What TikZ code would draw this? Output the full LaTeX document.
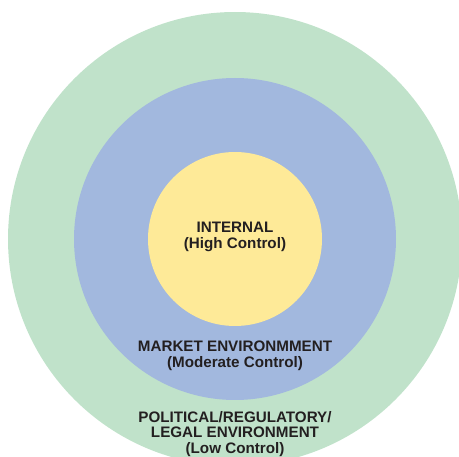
\documentclass[tikz,border=0pt]{standalone}
\usepackage{fontspec}
\setmainfont{Liberation Sans}
\definecolor{greenring}{HTML}{C0E2CA}
\definecolor{bluering}{HTML}{A2B8DE}
\definecolor{yellowcore}{HTML}{FEEA98}
\definecolor{textdark}{HTML}{231F20}
\begin{document}
\begin{tikzpicture}[x=1pt,y=-1pt,
  lbl/.style={align=center,font=\fontsize{15.2}{15.5}\selectfont\bfseries,text=textdark,inner sep=0pt}]
\useasboundingbox (0,0) rectangle (459,457);
\begin{scope}
\clip (0,0) rectangle (459,457);
\fill[greenring] (235,239) circle (227);
\fill[bluering] (235,239) circle (161);
\fill[yellowcore] (235,239) circle (87);
\end{scope}
\node[lbl] (internal) at (235,237) {INTERNAL\\(High Control)};
\node[lbl] (market) at (235,356) {MARKET ENVIRONMMENT\\(Moderate Control)};
\node[lbl] (political) at (235,434) {POLITICAL/REGULATORY/\\LEGAL ENVIRONMENT\\(Low Control)};
\end{tikzpicture}
\end{document}
